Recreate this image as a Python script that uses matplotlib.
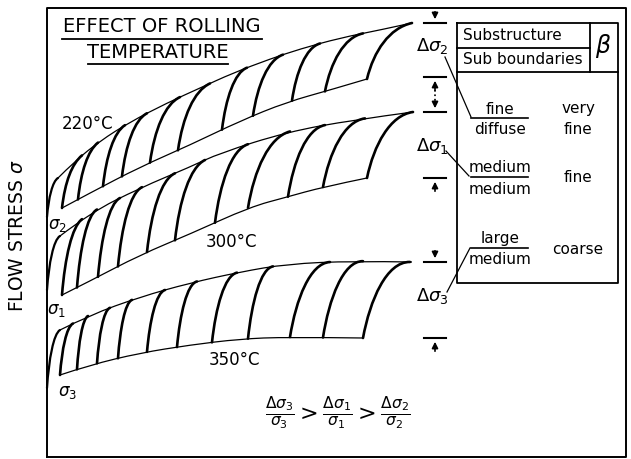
import numpy as np
import matplotlib
matplotlib.use("Agg")
import matplotlib.pyplot as plt
from matplotlib.path import Path
from matplotlib.patches import PathPatch

plt.rcParams['font.family'] = ['DejaVu Sans']
plt.rcParams['mathtext.fontset'] = 'dejavusans'

# envelopes of the three bands (x, y in picture units, y downwards)
up220_x = [58, 75, 100, 130, 167, 200, 233, 270, 300, 340, 380, 412]
up220_y = [178, 161, 141, 122, 103, 88, 73, 59, 49, 38, 30, 23]
lo220_x = [62, 90, 140, 190, 240, 287, 330, 367]
lo220_y = [208, 193, 167, 145, 121, 102, 90, 79]

up300_x = [60, 90, 140, 190, 220, 287, 353, 413]
up300_y = [236, 213, 188, 167, 153, 132, 120, 112]
lo300_x = [62, 90, 140, 190, 250, 287, 323, 367]
lo300_y = [295, 281, 255, 234, 207, 197, 187, 178]

up350_x = [60, 90, 140, 190, 240, 287, 353, 412]
up350_y = [330, 315, 297, 283, 272, 264, 261, 262]
lo350_x = [60, 90, 140, 190, 240, 287, 363]
lo350_y = [375, 365, 353, 345, 339, 337, 338]

# striations: where each one leaves the lower envelope and meets the upper one
s220_bot = [62, 78, 103, 122, 150, 178, 222, 253, 292, 325, 367]
s220_top = [82, 98, 125, 147, 180, 210, 247, 283, 320, 363, 412]
s300_bot = [62, 77, 98, 118, 147, 175, 215, 248, 288, 323, 367]
s300_top = [82, 97, 120, 142, 175, 205, 248, 290, 325, 365, 413]
s350_bot = [60, 77, 97, 118, 147, 177, 212, 248, 290, 323, 363]
s350_top = [73, 88, 110, 132, 165, 197, 237, 273, 330, 363, 410]

# start of each band on the stress axis
axis_start = [217, 290, 388]

temps = ['220°C', '300°C', '350°C']
temp_pos = [(88, 124), (231, 242), (234, 360)]
sig_labels = [r'$\sigma_2$', r'$\sigma_1$', r'$\sigma_3$']
sig_pos = [(57, 225), (56, 310), (68, 392)]

AX_X = 47

fig = plt.figure(figsize=(6.31, 4.59), dpi=100)
ax = fig.add_axes([0, 0, 1, 1])
ax.set_xlim(0, 631)
ax.set_ylim(459, 0)
ax.axis('off')


def smooth(xs, ys, **kw):
    # quadratic bezier through midpoints
    pts = list(zip(xs, ys))
    verts = [pts[0]]
    codes = [Path.MOVETO]
    for i in range(1, len(pts) - 1):
        mid = ((pts[i][0] + pts[i + 1][0]) / 2, (pts[i][1] + pts[i + 1][1]) / 2)
        verts += [pts[i], mid if i < len(pts) - 2 else pts[i + 1]]
        codes += [Path.CURVE3, Path.CURVE3]
    if len(pts) == 2:
        verts.append(pts[1])
        codes.append(Path.LINETO)
    ax.add_patch(PathPatch(Path(verts, codes), fill=False, **kw))


def stripe(x0, y0, x1, y1, slope, lw=1.9):
    dx = x1 - x0
    h = y0 - y1
    verts = [(x0, y0), (x0 + 0.15 * dx, y0 - 0.5 * h),
             (x1 - 0.5 * dx, y1 + 0.5 * dx * slope), (x1, y1)]
    codes = [Path.MOVETO, Path.CURVE4, Path.CURVE4, Path.CURVE4]
    ax.add_patch(PathPatch(Path(verts, codes), fill=False, lw=lw,
                           color='k', capstyle='round'))


bands = [
    (up220_x, up220_y, lo220_x, lo220_y, s220_bot, s220_top),
    (up300_x, up300_y, lo300_x, lo300_y, s300_bot, s300_top),
    (up350_x, up350_y, lo350_x, lo350_y, s350_bot, s350_top),
]
for k, (ux, uy, lx, ly, sb, st) in enumerate(bands):
    smooth(ux, uy, color='k', lw=0.9)
    smooth(lx, ly, color='k', lw=0.9)
    stripe(AX_X, axis_start[k], ux[0], uy[0], 0.6, lw=1.6)
    for b, t in zip(sb, st):
        yb = np.interp(b, lx, ly)
        yt = np.interp(t, ux, uy)
        sl = (np.interp(t - 8, ux, uy) - yt) / 8
        stripe(b, yb, t, yt, sl)
    ax.text(*temp_pos[k], temps[k], ha='center', va='center', fontsize=12)
    ax.text(*sig_pos[k], sig_labels[k], ha='center', va='center', fontsize=12)

# frame
ax.plot([AX_X, AX_X, 626, 626, AX_X], [457, 8, 8, 457, 457], color='k', lw=1.4)

ax.text(18, 236, r'FLOW STRESS $\sigma$', rotation=90, ha='center', va='center',
        fontsize=13.5)

# title
ax.text(162, 27, 'EFFECT OF ROLLING', ha='center', va='center', fontsize=14)
ax.plot([62, 262], [39, 39], color='k', lw=1.3)
ax.text(158, 52, 'TEMPERATURE', ha='center', va='center', fontsize=14)
ax.plot([88, 228], [64, 64], color='k', lw=1.3)

# delta sigma markers
ticks_down = [23, 112, 262]
ticks_up = [77, 178, 338]
MX = 435
for y in ticks_down:
    ax.plot([424, 446], [y, y], color='k', lw=1.5)
    ax.annotate('', xy=(MX, y - 1), xytext=(MX, y - 14),
                arrowprops=dict(arrowstyle='-|>', color='k', lw=1.2, mutation_scale=9))
for y in ticks_up:
    ax.plot([424, 446], [y, y], color='k', lw=1.5)
    ax.annotate('', xy=(MX, y + 1), xytext=(MX, y + 16),
                arrowprops=dict(arrowstyle='-|>', color='k', lw=1.2, mutation_scale=9))
ax.plot([MX, MX], [90, 100], color='k', lw=1.2, ls=':')

dlabels = [r'$\Delta\sigma_2$', r'$\Delta\sigma_1$', r'$\Delta\sigma_3$']
dpos = [(432, 46), (432, 146), (432, 296)]
for lab, p in zip(dlabels, dpos):
    ax.text(*p, lab, ha='center', va='center', fontsize=13)

# leaders
ax.plot([445, 471], [57, 117], color='k', lw=0.9)
ax.plot([446, 469], [151, 176], color='k', lw=0.9)
ax.plot([447, 470], [292, 248], color='k', lw=0.9)

# table box
ax.plot([457, 618, 618, 457, 457], [23, 23, 283, 283, 23], color='k', lw=1.3)
ax.plot([457, 590], [48, 48], color='k', lw=1.3)
ax.plot([457, 618], [72, 72], color='k', lw=1.3)
ax.plot([590, 590], [23, 72], color='k', lw=1.3)
ax.text(463, 36, 'Substructure', ha='left', va='center', fontsize=11)
ax.text(463, 60, 'Sub boundaries', ha='left', va='center', fontsize=11)
ax.text(603, 46, r'$\beta$', ha='center', va='center', fontsize=17)

sub_top = ['fine', 'medium', 'large']
sub_bot = ['diffuse', 'medium', 'medium']
beta = ['very\nfine', 'fine', 'coarse']
bar_y = [118, 177, 248]
for t, b, s, y in zip(sub_top, sub_bot, beta, bar_y):
    ax.plot([471, 528], [y, y], color='k', lw=1.2)
    ax.text(500, y - 9, t, ha='center', va='center', fontsize=11)
    ax.text(500, y + 12, b, ha='center', va='center', fontsize=11)
    ax.text(578, y + 1, s, ha='center', va='center', fontsize=11, linespacing=1.5)

ax.text(338, 413, r'$\frac{\Delta\sigma_3}{\sigma_3} > \frac{\Delta\sigma_1}{\sigma_1} > \frac{\Delta\sigma_2}{\sigma_2}$',
        ha='center', va='center', fontsize=16)

fig.savefig('out.png', dpi=100)
